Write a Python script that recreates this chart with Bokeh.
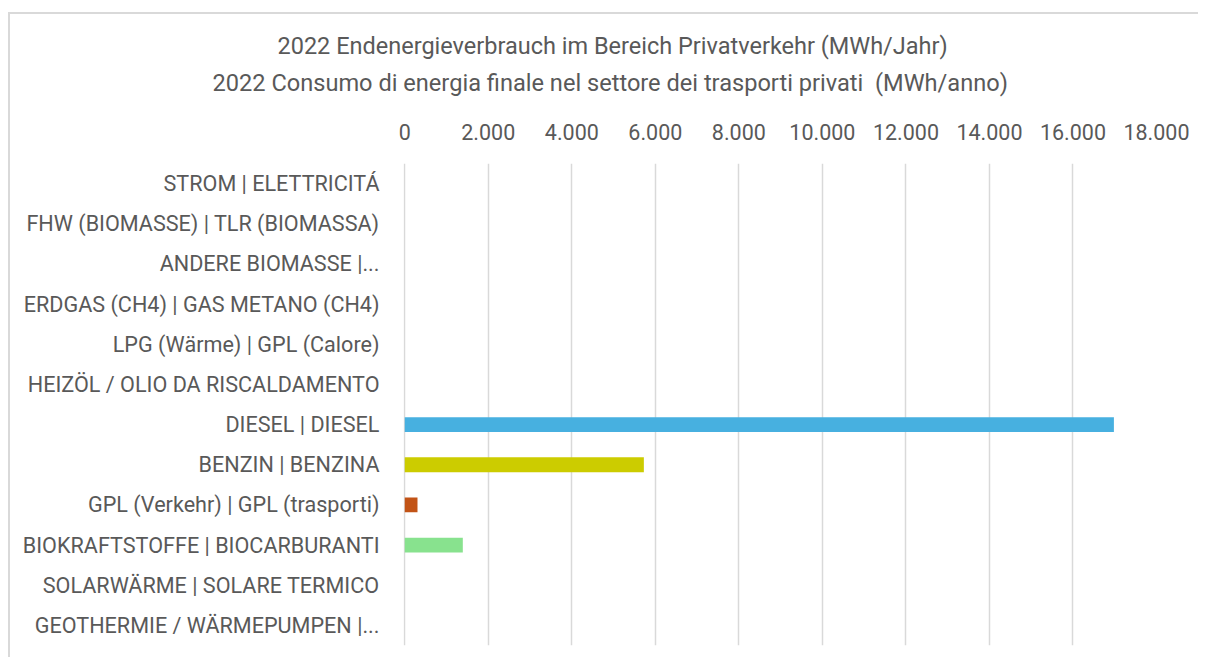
from bokeh.plotting import figure
from bokeh.models import FixedTicker, Title
from bokeh.embed import file_html
from bokeh.resources import INLINE

categories = [
    "STROM | ELETTRICITÁ",
    "FHW (BIOMASSE) | TLR (BIOMASSA)",
    "ANDERE BIOMASSE |...",
    "ERDGAS (CH4) | GAS METANO (CH4)",
    "LPG (Wärme) | GPL (Calore)",
    "HEIZÖL / OLIO DA RISCALDAMENTO",
    "DIESEL | DIESEL",
    "BENZIN | BENZINA",
    "GPL (Verkehr) | GPL (trasporti)",
    "BIOKRAFTSTOFFE | BIOCARBURANTI",
    "SOLARWÄRME | SOLARE TERMICO",
    "GEOTHERMIE / WÄRMEPUMPEN |...",
]
values = [0, 0, 0, 0, 0, 0, 16980, 5725, 305, 1390, 0, 0]
colors = ["#4472C4", "#4472C4", "#4472C4", "#4472C4", "#4472C4", "#4472C4",
          "#47B0E0", "#CCCC00", "#C25316", "#88E28E", "#4472C4", "#4472C4"]
tick_values = [0, 2000, 4000, 6000, 8000, 10000, 12000, 14000, 16000, 18000]
tick_labels = ["0", "2.000", "4.000", "6.000", "8.000", "10.000", "12.000",
               "14.000", "16.000", "18.000"]
title_lines = [
    "2022 Endenergieverbrauch im Bereich Privatverkehr (MWh/Jahr)",
    "2022 Consumo di energia finale nel settore dei trasporti privati\u00a0 (MWh/anno)",
]

FONT = "Roboto"
TXT = "#595959"

p = figure(width=1190, height=645, output_backend="svg", toolbar_location=None,
           y_range=list(reversed(categories)), x_range=(-30, 18000),
           x_axis_location="above", min_border_left=393, min_border_right=44,
           min_border_top=149, min_border_bottom=14)
p.styles = {"border-left": "2px solid #D9D9D9", "border-top": "2px solid #D9D9D9",
            "margin-left": "8px", "margin-top": "12px"}

p.hbar(y=categories, right=values, left=0, height=0.37, fill_color=colors,
       line_color=None)

p.title = None
spacer = Title(text=" ", text_font=FONT, text_font_size="1px", text_color="white",
               standoff=16)
t2 = Title(text=title_lines[1], align="left", offset=-191, text_font=FONT,
           text_font_size="23.6px", text_color=TXT, text_font_style="normal",
           vertical_align="middle", standoff=7)
t1 = Title(text=title_lines[0], align="left", offset=-126, text_font=FONT,
           text_font_size="23.5px", text_color=TXT, text_font_style="normal",
           vertical_align="middle", standoff=7)
p.add_layout(spacer, "above")
p.add_layout(t2, "above")
p.add_layout(t1, "above")

xa = p.xaxis[0]
xa.ticker = FixedTicker(ticks=tick_values)
xa.major_label_overrides = {v: l for v, l in zip(tick_values, tick_labels)}
xa.axis_line_color = None
xa.major_tick_line_color = None
xa.minor_tick_line_color = None
xa.major_label_text_font = FONT
xa.major_label_text_font_size = "21.5px"
xa.major_label_text_color = TXT
xa.major_label_standoff = 18

ya = p.yaxis[0]
ya.axis_line_color = None
ya.major_tick_line_color = None
ya.major_label_text_font = FONT
ya.major_label_text_font_size = "21.6px"
ya.major_label_text_color = TXT
ya.major_label_standoff = 18

p.ygrid.grid_line_color = None
p.xgrid.grid_line_color = "#D9D9D9"
p.xgrid.grid_line_width = 1.5
p.xgrid.ticker = FixedTicker(ticks=tick_values)
p.outline_line_color = None

open("out.html", "w").write(file_html(p, INLINE))
